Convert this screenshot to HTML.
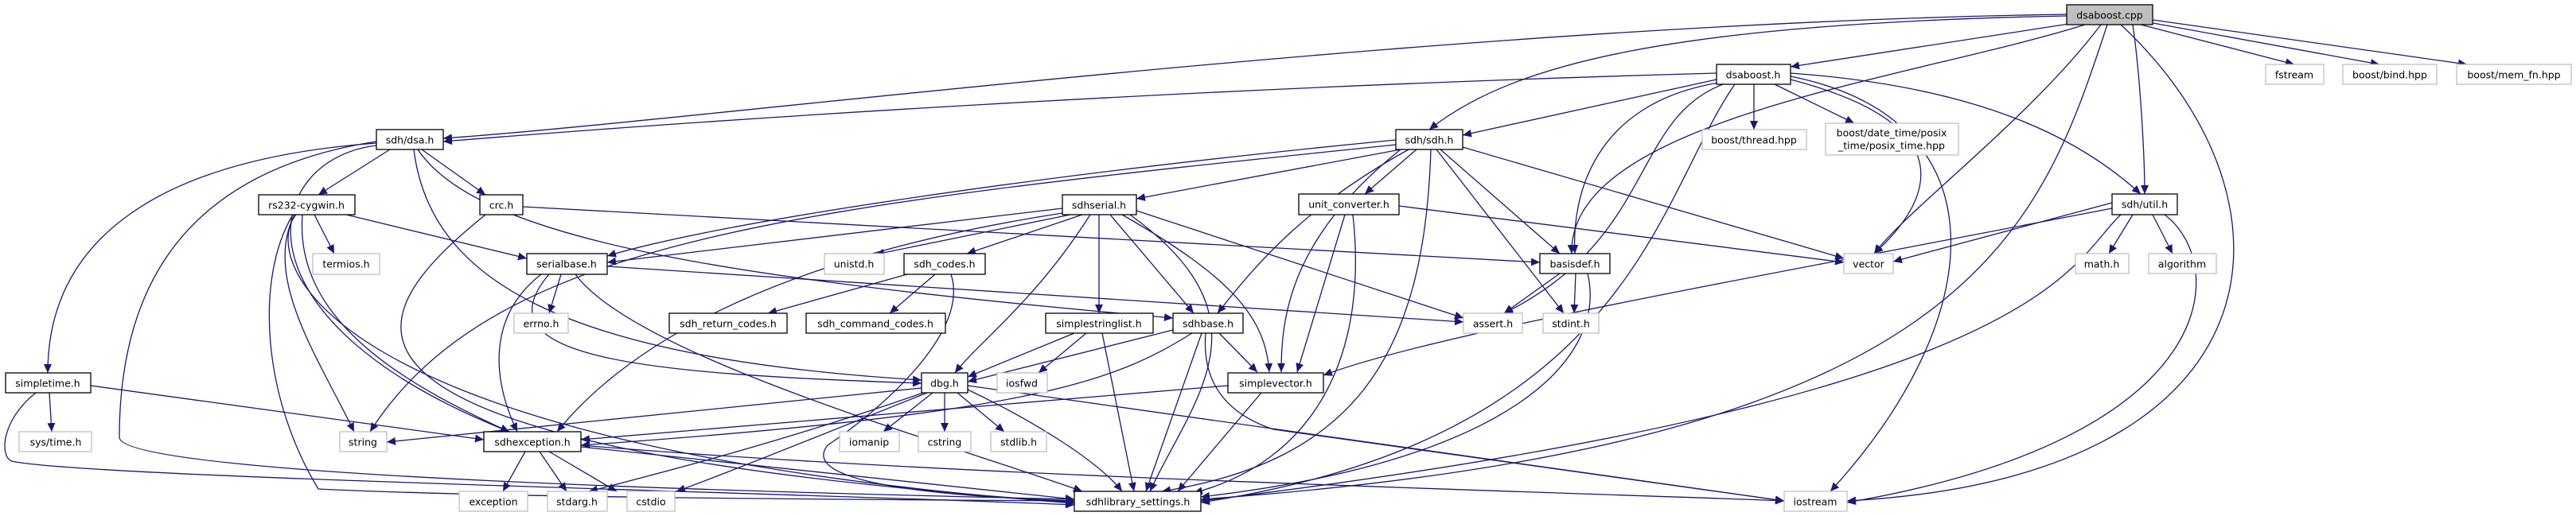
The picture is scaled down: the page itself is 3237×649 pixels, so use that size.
<!DOCTYPE html>
<html><head><meta charset="utf-8"><style>
html,body{margin:0;padding:0;background:#fff}
svg{display:block}
text{font-family:"DejaVu Sans","Liberation Sans",sans-serif;font-size:12.5px;fill:#000;text-anchor:middle;dominant-baseline:central}
.e{fill:none;stroke:#191970;stroke-width:1.3}
.n{fill:#fff;stroke:#000;stroke-width:1.3}
.g{fill:#fff;stroke:#bfbfbf;stroke-width:1.3}
</style></head><body>
<svg width="3237" height="649" viewBox="0 0 3237 649" xmlns="http://www.w3.org/2000/svg">
<defs><marker id="a" markerUnits="userSpaceOnUse" markerWidth="12" markerHeight="10" refX="11" refY="5" orient="auto"><path d="M0,0 L11,5 L0,10 z" fill="#191970"/></marker></defs>
<g class="e" marker-end="url(#a)">
<path d="M2597,18 C1800,30 900,150 557,174"/>
<path d="M2157,92 C1500,110 900,150 557,178"/>
<path d="M2600,30 L2250,84"/>
<path d="M2597,20 C2100,30 1900,80 1796,163"/>
<path d="M2620,31 C2400,100 1970,150 1975,319"/>
<path d="M2640,31 C2550,150 2400,260 2355,319"/>
<path d="M2680,31 C2690,100 2695,200 2695,244"/>
<path d="M2648,31 C2560,300 2470,560 1509,628"/>
<path d="M2665,31 C2900,250 2880,600 2321,630"/>
<path d="M2690,31 L2883,81"/>
<path d="M2700,28 L2990,81"/>
<path d="M2705,25 L3100,81"/>
<path d="M2157,100 L1838,170"/>
<path d="M2204,106 L2204,163"/>
<path d="M2230,106 L2330,155"/>
<path d="M2160,104 C2000,130 1975,250 1979,319"/>
<path d="M2250,100 C2480,160 2420,260 2355,319"/>
<path d="M2250,92 C2500,110 2620,180 2690,244"/>
<path d="M2165,106 C2050,150 2080,300 1890,394"/>
<path d="M2180,106 C2080,250 2050,550 1509,632"/>
<path d="M2250,96 C2520,150 2500,400 2300,618"/>
<path d="M490,188 L400,245"/>
<path d="M530,188 L610,245"/>
<path d="M473,180 C200,200 60,300 60,469"/>
<path d="M473,183 C330,200 280,400 640,543"/>
<path d="M473,178 C200,220 150,400 150,550 C150,600 1000,620 1350,628"/>
<path d="M520,188 C540,350 700,450 1158,478"/>
<path d="M525,188 C600,300 900,350 1474,400"/>
<path d="M395,270 L420,319"/>
<path d="M435,270 L662,325"/>
<path d="M380,270 C370,400 500,480 640,543"/>
<path d="M370,270 C330,350 400,450 445,543"/>
<path d="M368,270 C320,350 330,500 400,615 C600,625 1000,628 1350,630"/>
<path d="M372,270 C330,320 380,560 1350,633"/>
<path d="M657,260 L1935,330"/>
<path d="M610,270 C450,400 330,560 1350,632"/>
<path d="M705,345 L690,394"/>
<path d="M680,345 C610,400 620,480 650,543"/>
<path d="M690,345 C600,450 800,470 1158,482"/>
<path d="M723,345 C800,450 1200,560 1360,618"/>
<path d="M763,335 L1839,405"/>
<path d="M114,485 L608,553"/>
<path d="M62,494 L65,543"/>
<path d="M45,494 C0,530 0,575 15,580 C100,600 1000,620 1350,635"/>
<path d="M660,568 L632,618"/>
<path d="M678,568 L712,618"/>
<path d="M690,568 L775,618"/>
<path d="M730,562 L1350,628"/>
<path d="M730,560 C1200,600 2000,620 2242,630"/>
<path d="M1760,188 L1428,250"/>
<path d="M1780,188 L1715,244"/>
<path d="M1810,188 L1960,319"/>
<path d="M1838,185 L2317,325"/>
<path d="M1754,182 C1000,260 620,300 465,543"/>
<path d="M1754,176 C1300,220 900,280 763,322"/>
<path d="M1770,188 C1640,260 1580,330 1530,394"/>
<path d="M1805,188 L1965,394"/>
<path d="M1798,188 C1790,450 1700,580 1460,618"/>
<path d="M1760,188 C1620,300 1610,400 1610,468"/>
<path d="M1345,270 L1100,320"/>
<path d="M1360,270 L1215,319"/>
<path d="M1370,270 C1300,380 1230,430 1200,469"/>
<path d="M1381,270 L1381,394"/>
<path d="M1395,270 L1500,394"/>
<path d="M1410,270 C1550,350 1590,400 1595,468"/>
<path d="M1420,270 C1600,400 1500,500 1445,618"/>
<path d="M1335,262 L763,330"/>
<path d="M1428,265 L1839,400"/>
<path d="M1335,268 C1000,320 800,420 700,543"/>
<path d="M1140,345 L965,394"/>
<path d="M1175,345 L1118,394"/>
<path d="M1195,345 C1220,420 1100,520 1040,560 C1000,610 1200,625 1350,630"/>
<path d="M1350,419 L1216,474"/>
<path d="M1365,419 L1305,469"/>
<path d="M1385,419 L1425,618"/>
<path d="M1474,415 L1216,480"/>
<path d="M1532,419 L1580,468"/>
<path d="M1510,419 L1440,618"/>
<path d="M1498,419 C1400,480 1300,520 730,560"/>
<path d="M1515,419 C1510,480 1540,520 1600,540 L2242,630"/>
<path d="M1172,494 L1110,543"/>
<path d="M1187,494 L1187,543"/>
<path d="M1203,494 L1262,543"/>
<path d="M1158,488 L486,556"/>
<path d="M1160,494 C1000,550 850,590 740,618"/>
<path d="M1165,494 C1000,560 900,600 850,618"/>
<path d="M1216,490 C1300,530 1380,580 1410,618"/>
<path d="M1216,485 L2242,630"/>
<path d="M1543,485 L730,553"/>
<path d="M1585,494 L1480,618"/>
<path d="M1758,259 L2317,330"/>
<path d="M1690,270 L1630,468"/>
<path d="M1700,270 C1720,450 1650,580 1500,620"/>
<path d="M1960,344 L1890,394"/>
<path d="M1980,344 L1978,394"/>
<path d="M1995,344 C2020,450 1900,580 1509,625"/>
<path d="M2654,255 L2379,329"/>
<path d="M2680,270 L2650,319"/>
<path d="M2705,270 L2730,319"/>
<path d="M2654,262 C2200,350 1800,420 1663,472"/>
<path d="M2665,270 C2600,330 2580,500 1509,630"/>
<path d="M2720,270 C2800,330 2800,550 2321,632"/>
</g>
<g>
<rect x="2597" y="6" width="108" height="25" style="fill:#bfbfbf;stroke:#000;stroke-width:1.3"/><text x="2651" y="19">dsaboost.cpp</text>
<rect class="n" x="2157" y="81" width="93" height="25"/><text x="2203" y="94">dsaboost.h</text>
<rect class="g" x="2847" y="81" width="73" height="25"/><text x="2883" y="94">fstream</text>
<rect class="g" x="2944" y="81" width="118" height="25"/><text x="3003" y="94">boost/bind.hpp</text>
<rect class="g" x="3087" y="81" width="144" height="25"/><text x="3159" y="94">boost/mem_fn.hpp</text>
<rect class="n" x="473" y="163" width="84" height="25"/><text x="515" y="176">sdh/dsa.h</text>
<rect class="n" x="1754" y="163" width="84" height="25"/><text x="1796" y="176">sdh/sdh.h</text>
<rect class="g" x="2139" y="163" width="131" height="25"/><text x="2204" y="176">boost/thread.hpp</text>
<rect class="g" x="2294" y="155" width="167" height="40"/><text x="2377" y="167">boost/date_time/posix</text><text x="2377" y="183">_time/posix_time.hpp</text>
<rect class="n" x="325" y="245" width="121" height="25"/><text x="385" y="258">rs232-cygwin.h</text>
<rect class="n" x="603" y="245" width="54" height="25"/><text x="630" y="258">crc.h</text>
<rect class="n" x="1335" y="245" width="93" height="25"/><text x="1381" y="258">sdhserial.h</text>
<rect class="n" x="1632" y="244" width="126" height="26"/><text x="1695" y="257">unit_converter.h</text>
<rect class="n" x="2654" y="244" width="82" height="26"/><text x="2695" y="257">sdh/util.h</text>
<rect class="g" x="393" y="319" width="84" height="26"/><text x="435" y="332">termios.h</text>
<rect class="n" x="662" y="319" width="101" height="26"/><text x="712" y="332">serialbase.h</text>
<rect class="g" x="1036" y="319" width="75" height="26"/><text x="1073" y="332">unistd.h</text>
<rect class="n" x="1136" y="319" width="102" height="26"/><text x="1187" y="332">sdh_codes.h</text>
<rect class="n" x="1935" y="319" width="88" height="25"/><text x="1979" y="332">basisdef.h</text>
<rect class="g" x="2317" y="319" width="62" height="25"/><text x="2348" y="332">vector</text>
<rect class="g" x="2608" y="319" width="67" height="25"/><text x="2641" y="332">math.h</text>
<rect class="g" x="2700" y="319" width="85" height="25"/><text x="2742" y="332">algorithm</text>
<rect class="g" x="646" y="394" width="68" height="25"/><text x="680" y="407">errno.h</text>
<rect class="n" x="841" y="394" width="148" height="25"/><text x="915" y="407">sdh_return_codes.h</text>
<rect class="n" x="1013" y="394" width="175" height="25"/><text x="1100" y="407">sdh_command_codes.h</text>
<rect class="n" x="1314" y="394" width="135" height="25"/><text x="1381" y="407">simplestringlist.h</text>
<rect class="n" x="1474" y="394" width="88" height="25"/><text x="1518" y="407">sdhbase.h</text>
<rect class="g" x="1839" y="394" width="74" height="25"/><text x="1876" y="407">assert.h</text>
<rect class="g" x="1939" y="394" width="70" height="25"/><text x="1974" y="407">stdint.h</text>
<rect class="n" x="7" y="469" width="107" height="25"/><text x="60" y="482">simpletime.h</text>
<rect class="n" x="1158" y="469" width="58" height="25"/><text x="1187" y="482">dbg.h</text>
<rect class="g" x="1253" y="469" width="63" height="25"/><text x="1284" y="482">iosfwd</text>
<rect class="n" x="1543" y="469" width="120" height="25"/><text x="1603" y="482">simplevector.h</text>
<rect class="g" x="24" y="543" width="91" height="25"/><text x="70" y="556">sys/time.h</text>
<rect class="g" x="427" y="543" width="59" height="25"/><text x="456" y="556">string</text>
<rect class="n" x="608" y="543" width="122" height="25"/><text x="669" y="556">sdhexception.h</text>
<rect class="g" x="1055" y="543" width="75" height="25"/><text x="1092" y="556">iomanip</text>
<rect class="g" x="1154" y="543" width="66" height="25"/><text x="1187" y="556">cstring</text>
<rect class="g" x="1245" y="543" width="70" height="25"/><text x="1280" y="556">stdlib.h</text>
<rect class="g" x="577" y="618" width="86" height="25"/><text x="620" y="631">exception</text>
<rect class="g" x="688" y="618" width="75" height="25"/><text x="725" y="631">stdarg.h</text>
<rect class="g" x="788" y="618" width="60" height="25"/><text x="818" y="631">cstdio</text>
<rect class="n" x="1350" y="618" width="159" height="25"/><text x="1430" y="631">sdhlibrary_settings.h</text>
<rect class="g" x="2242" y="618" width="79" height="25"/><text x="2281" y="631">iostream</text>
</g>
</svg>
</body></html>
